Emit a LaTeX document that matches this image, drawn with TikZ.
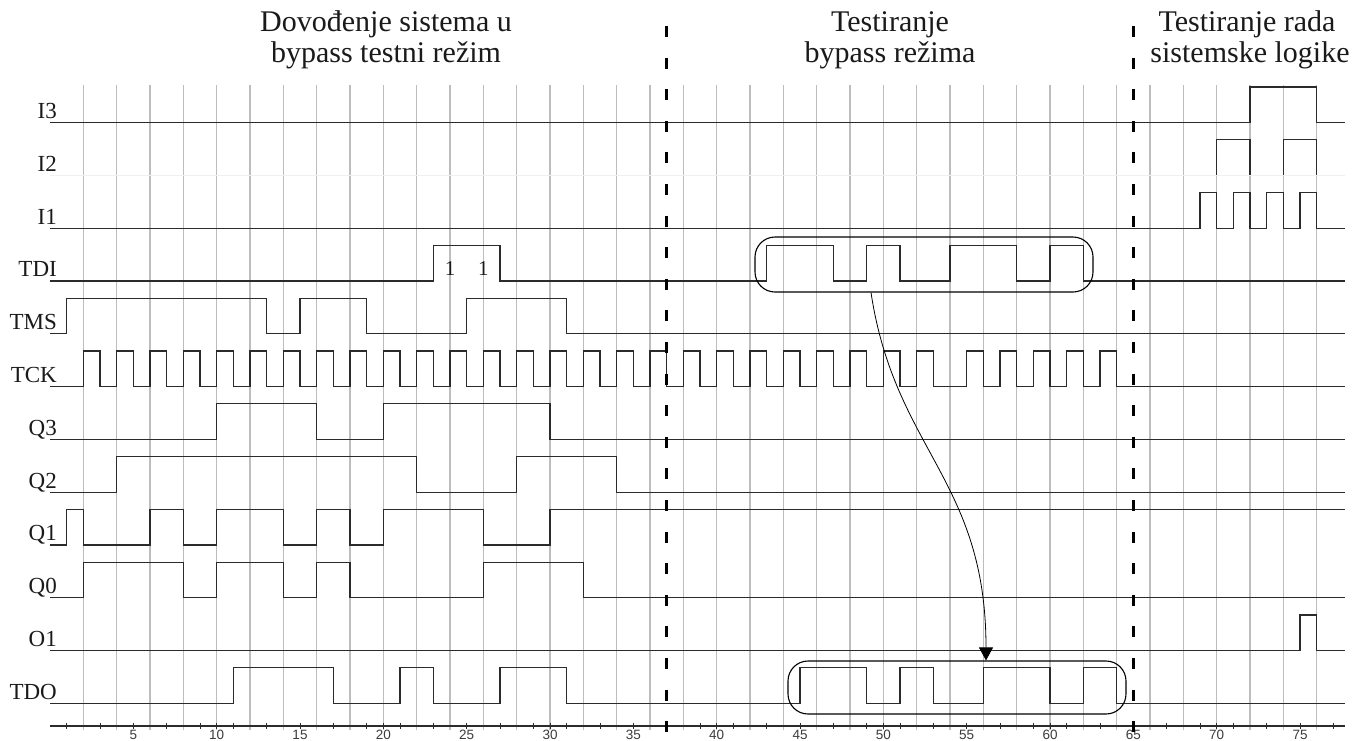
\documentclass[tikz,border=0pt]{standalone}
\usepackage{fontspec}
\setmainfont{Liberation Serif}
\newfontfamily\axisfont{Liberation Sans}
\usetikzlibrary{arrows.meta}
\definecolor{labc}{HTML}{1A1A1A}
\definecolor{sigc}{HTML}{2B2B2B}
\definecolor{gridc}{HTML}{BDBDBD}
\definecolor{faintc}{HTML}{F0F0F0}
\begin{document}
\begin{tikzpicture}[x=1pt,y=-1pt,
  sig/.style={draw=sigc, line width=1.2pt, line join=miter},
  faint/.style={draw=faintc, line width=1pt},
  gridline/.style={draw=gridc, line width=1.1pt},
  lbl/.style={anchor=base east, inner sep=0pt, font=\fontsize{23}{23}\selectfont, text=labc},
  ttl/.style={anchor=base, inner sep=0pt, font=\fontsize{30}{30}\selectfont, text=labc},
  bitlbl/.style={anchor=base, inner sep=0pt, font=\fontsize{21}{21}\selectfont, text=labc},
  axnum/.style={anchor=base, inner sep=0pt, font=\axisfont\fontsize{13.5}{13.5}\selectfont, text=labc!85},
  phase/.style={draw=black, line width=2.7pt, dash pattern=on 11pt off 20.6pt},
  roundbox/.style={draw=black, line width=1.1pt, rounded corners=20pt, inner sep=0pt},
  axisline/.style={draw=sigc, line width=1.1pt},
  flowarrow/.style={draw=black, line width=0.8pt, -{Triangle[width=14pt,length=13pt]}}
]
\useasboundingbox (0,0) rectangle (1354,740);
\fill[white] (0,0) rectangle (1354,740);

% grid
\foreach \t in {2,4,...,76} \draw[gridline] ({50+16.6667*\t},85) -- ({50+16.6667*\t},730);

% titles
\node[ttl] (ta1) at (386,31) {Dovođenje sistema u};
\node[ttl] (ta2) at (386,62) {bypass testni režim};
\node[ttl] (tb1) at (890,31) {Testiranje};
\node[ttl] (tb2) at (890,62) {bypass režima};
\node[ttl] (tc1) at (1247,31) {Testiranje rada};
\node[ttl] (tc2) at (1250,62) {sistemske logike};

% signal labels
\node[lbl] (lI3)  at (57,118.5) {I3};
\node[lbl] (lI2)  at (57,171.3) {I2};
\node[lbl] (lI1)  at (57,224.1) {I1};
\node[lbl] (lTDI) at (57,276.9) {TDI};
\node[lbl] (lTMS) at (57,329.7) {TMS};
\node[lbl] (lTCK) at (57,382.5) {TCK};
\node[lbl] (lQ3)  at (57,435.3) {Q3};
\node[lbl] (lQ2)  at (57,488.1) {Q2};
\node[lbl] (lQ1)  at (57,540.9) {Q1};
\node[lbl] (lQ0)  at (57,593.7) {Q0};
\node[lbl] (lO1)  at (57,646.5) {O1};
\node[lbl] (lTDO) at (57,699.3) {TDO};

\begin{scope}[x=16.6667pt, xshift=50pt]
% I3
\draw[sig] (0,122.5) -| (72,87.0) -| (76,122.5) -- (77.7,122.5);
% I2
\draw[faint] (0,175.3) -- (77.7,175.3);
\draw[sig] (70,175.3) |- (72,139.8) -- (72,175.3);
\draw[sig] (74,175.3) |- (76,139.8) -- (76,175.3);
% I1
\draw[sig] (0,228.1) -| (69,192.6) -| (70,228.1) -| (71,192.6) -| (72,228.1)
  -| (73,192.6) -| (74,228.1) -| (75,192.6) -| (76,228.1) -- (77.7,228.1);
% TDI
\draw[sig] (0,280.9) -| (23,245.4) -| (27,280.9) -| (43,245.4) -| (47,280.9)
  -| (49,245.4) -| (51,280.9) -| (54,245.4) -| (58,280.9) -| (60,245.4)
  -| (62,280.9) -- (77.7,280.9);
\node[bitlbl] (b1) at (24,275) {1};
\node[bitlbl] (b2) at (26,275) {1};
% TMS
\draw[sig] (0,333.7) -| (1,298.2) -| (13,333.7) -| (15,298.2) -| (19,333.7)
  -| (25,298.2) -| (31,333.7) -- (77.7,333.7);
% TCK
\draw[sig] (0,386.5)
  \foreach \a in {2,4,...,52} { -- (\a,386.5) -- (\a,351.0) -- ({\a+1},351.0) -- ({\a+1},386.5) }
  \foreach \a in {55,57,...,63} { -- (\a,386.5) -- (\a,351.0) -- ({\a+1},351.0) -- ({\a+1},386.5) }
  -- (77.7,386.5);
% Q3
\draw[sig] (0,439.3) -| (10,403.8) -| (16,439.3) -| (20,403.8) -| (30,439.3) -- (77.7,439.3);
% Q2
\draw[sig] (0,492.1) -| (4,456.6) -| (22,492.1) -| (28,456.6) -| (34,492.1) -- (77.7,492.1);
% Q1
\draw[sig] (0,544.9) -| (1,509.4) -| (2,544.9) -| (6,509.4) -| (8,544.9) -| (10,509.4)
  -| (14,544.9) -| (16,509.4) -| (18,544.9) -| (20,509.4) -| (26,544.9) -| (30,509.4)
  -- (77.7,509.4);
% Q0
\draw[sig] (0,597.7) -| (2,562.2) -| (8,597.7) -| (10,562.2) -| (14,597.7) -| (16,562.2)
  -| (18,597.7) -| (26,562.2) -| (32,597.7) -- (77.7,597.7);
% O1
\draw[sig] (0,650.5) -| (75,615.0) -| (76,650.5) -- (77.7,650.5);
% TDO
\draw[sig] (0,703.3) -| (11,667.8) -| (17,703.3) -| (21,667.8) -| (23,703.3) -| (27,667.8)
  -| (31,703.3) -| (45,667.8) -| (49,703.3) -| (51,667.8) -| (53,703.3) -| (56,667.8)
  -| (60,703.3) -| (62,667.8) -| (64,703.3) -- (77.7,703.3);
% axis
\draw[axisline] (0,726) -- (77.7,726);
\foreach \t in {1,3,...,77} \draw[axisline, line width=0.9pt] (\t,723) -- (\t,729);
\foreach \t in {10,20,...,70} \draw[axisline, line width=0.9pt] (\t,723) -- (\t,729);
\foreach \t in {5,10,...,75} \node[axnum] (ax\t) at (\t,739) {\t};
% phase separators
\draw[phase] (37,26) -- (37,740);
\draw[phase] (65,26) -- (65,740);
\end{scope}

% highlight boxes and arrow
\node[roundbox, minimum width=338pt, minimum height=55pt] (tdibox) at (924,264.5) {};
\node[roundbox, minimum width=338pt, minimum height=53pt] (tdobox) at (957,687.5) {};
\draw[flowarrow] ([xshift=-53pt]tdibox.south) .. controls +(24,158) and +(0,-181) .. ([xshift=29pt]tdobox.north);
\end{tikzpicture}
\end{document}
